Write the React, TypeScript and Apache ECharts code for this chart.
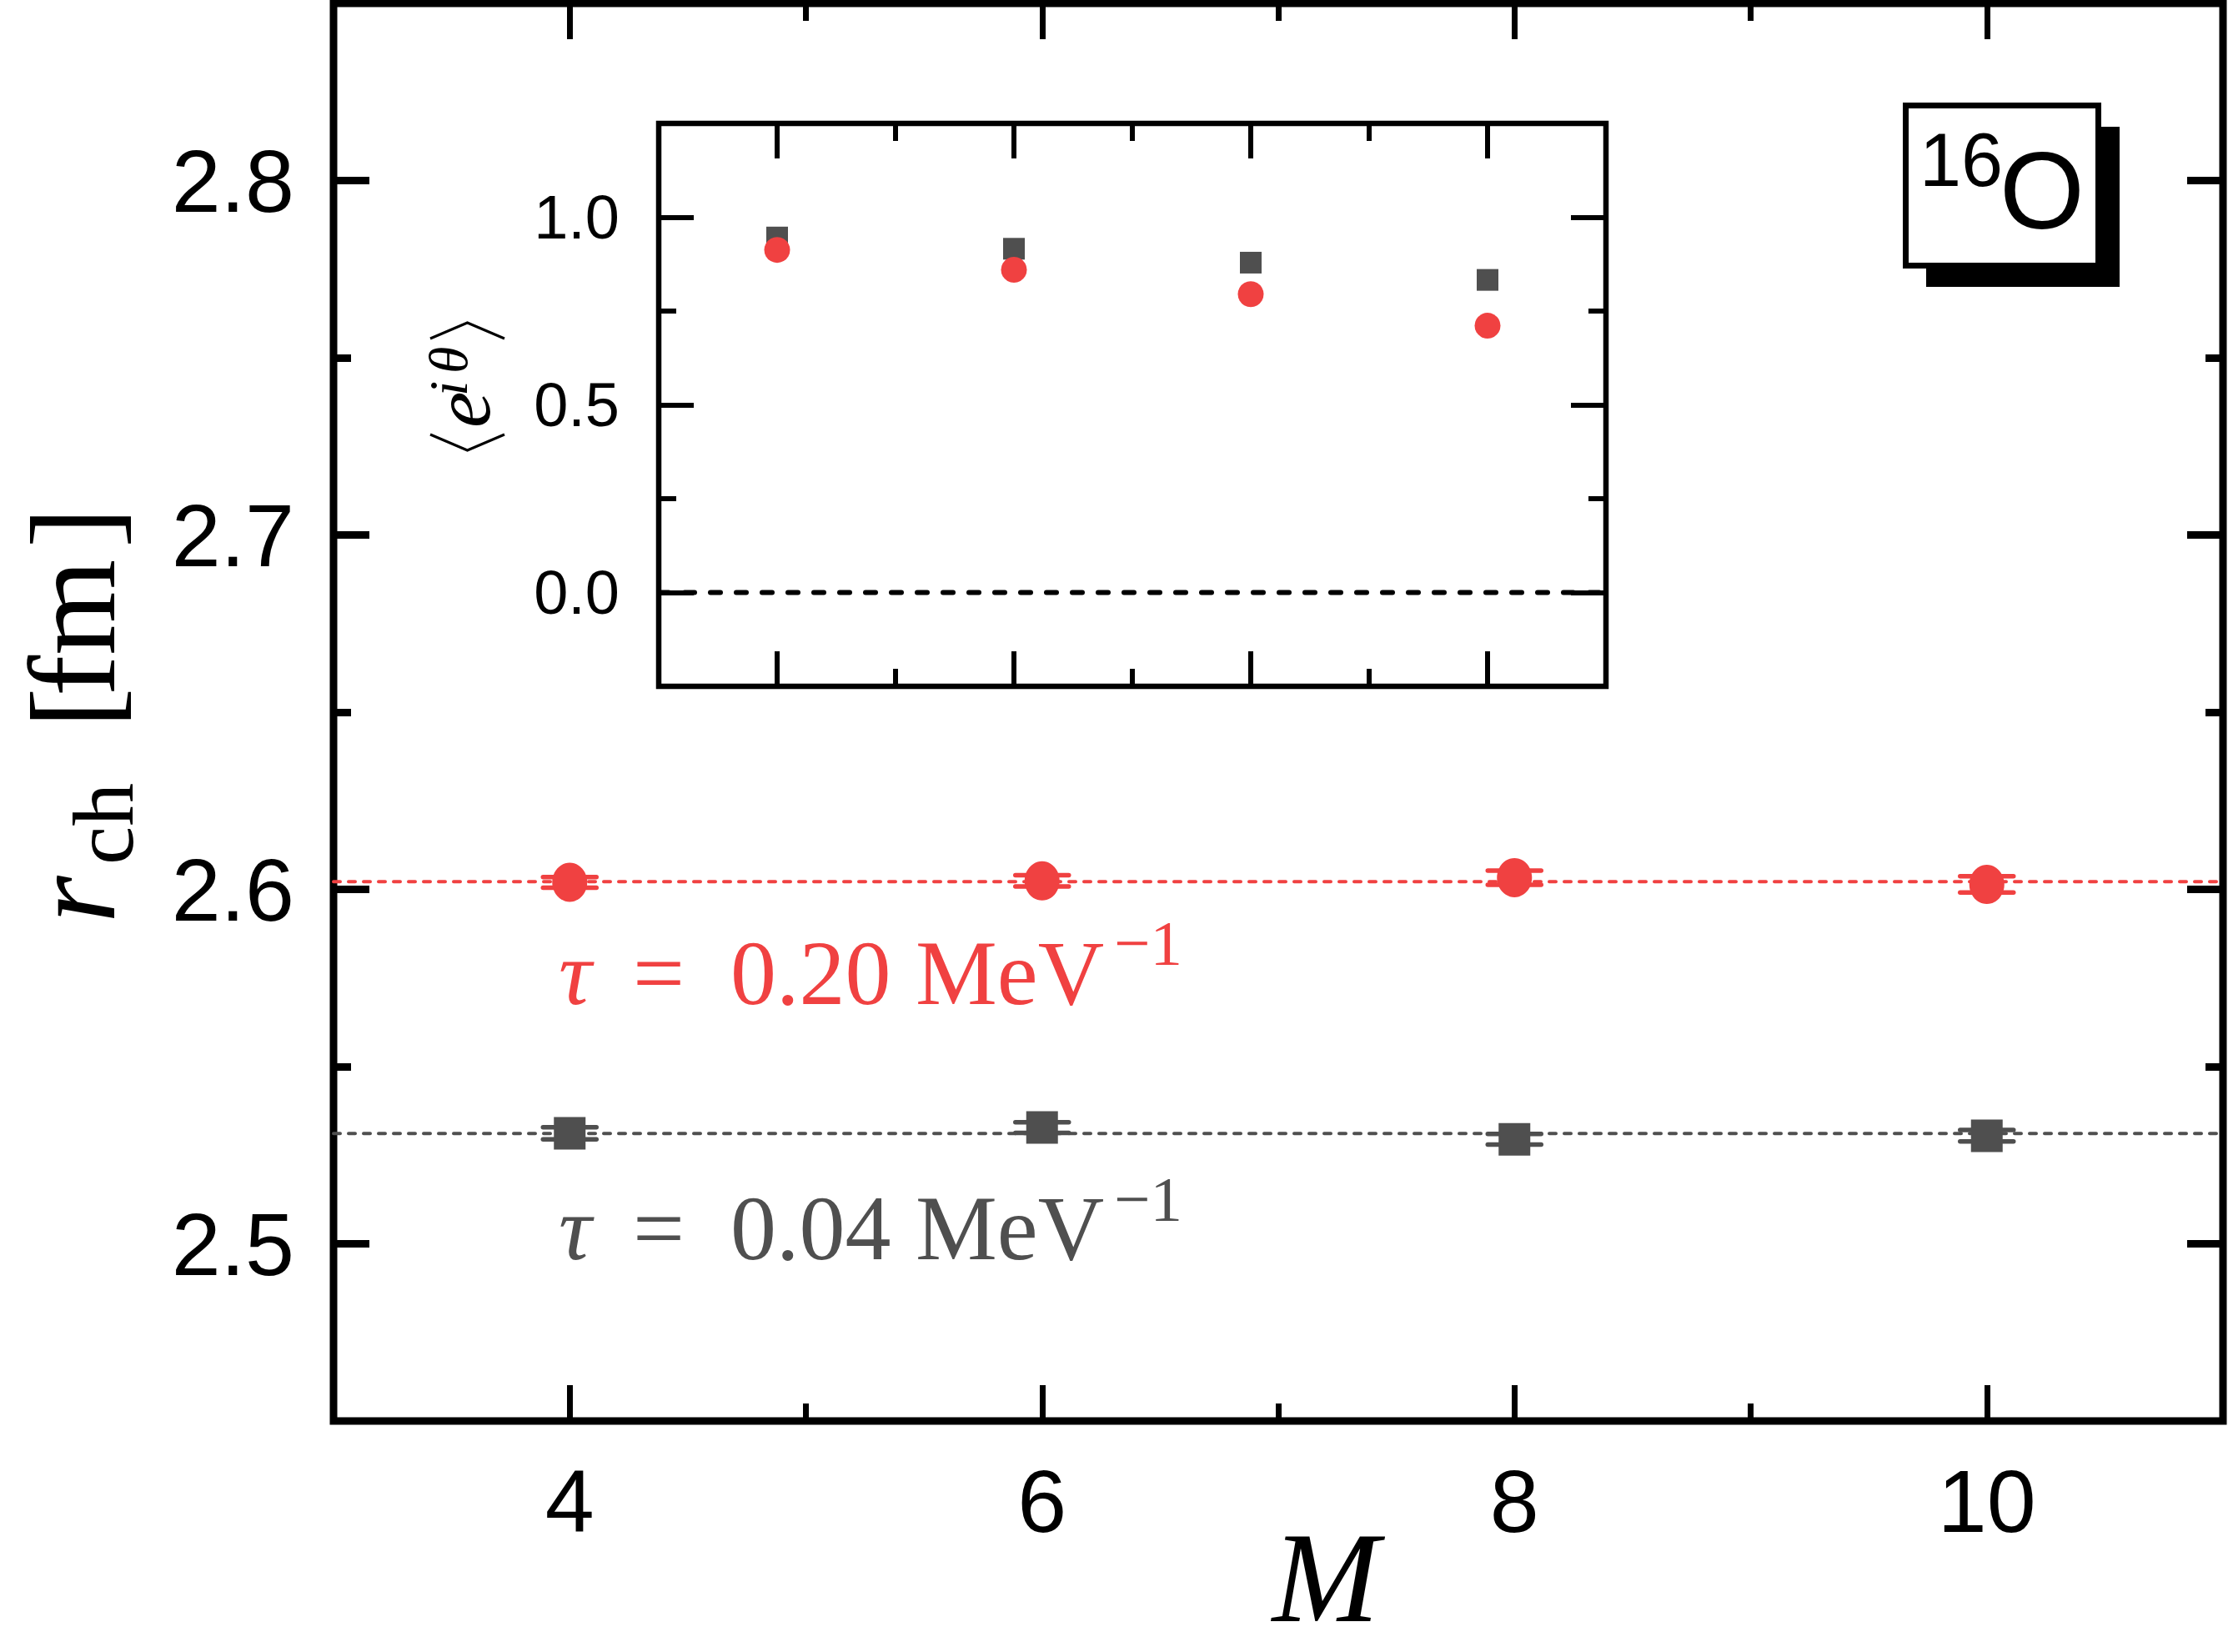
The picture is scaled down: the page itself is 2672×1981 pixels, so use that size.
import React, { useEffect, useRef } from 'react';
import * as echarts from 'echarts';

// ---------------- data ----------------
const M_VALUES = [4, 6, 8, 10];
const RCH_TAU020 = [2.602, 2.6024, 2.6033, 2.6014];
const ERR_TAU020 = [0.0015, 0.0016, 0.002, 0.0023];
const RCH_TAU004 = [2.5312, 2.5328, 2.5295, 2.5305];
const ERR_TAU004 = [0.0017, 0.0015, 0.0015, 0.0016];
const REF_TAU020 = 2.6022;
const REF_TAU004 = 2.5311;
const PHASE_TAU020 = [0.913, 0.86, 0.795, 0.711];
const PHASE_TAU004 = [0.946, 0.916, 0.879, 0.833];

const X_RANGE = [3, 11];
const Y_RANGE = [2.45, 2.85];
const INSET_Y_RANGE = [-0.25, 1.25];
const X_MAJOR = [4, 6, 8, 10];
const X_MINOR = [5, 7, 9];
const Y_MAJOR = [2.5, 2.6, 2.7, 2.8];
const Y_MINOR = [2.55, 2.65, 2.75];
const INSET_Y_MAJOR = [0, 0.5, 1.0];
const INSET_Y_MINOR = [0.25, 0.75];

const RED = '#f04141';
const GREY = '#4f4f4f';
const SANS = '"Liberation Sans", Arial, sans-serif';
const SERIF = '"Liberation Serif", "Times New Roman", serif';

// ---------------- helpers ----------------
function mkAxis(
  gridIndex: number,
  position: string,
  range: number[],
  ticks: number[],
  len: number,
  w: number,
  label?: any
) {
  return {
    type: 'value',
    gridIndex,
    position,
    min: range[0],
    max: range[1],
    axisLine: { show: false, onZero: false },
    splitLine: { show: false },
    axisPointer: { show: false },
    axisTick: {
      show: true,
      inside: true,
      length: len,
      customValues: ticks,
      lineStyle: { color: '#000', width: w },
    },
    axisLabel: label
      ? { show: true, customValues: ticks, ...label }
      : { show: false },
  };
}

function tb(
  text: string,
  x: number,
  baseline: number,
  size: number,
  opts: { italic?: boolean; fill?: string; family?: string; align?: string; z?: number } = {}
) {
  const fam = opts.family ?? SERIF;
  const central = fam === SANS ? 0.3465 : 0.3375;
  const align = opts.align ?? 'left';
  return {
    type: 'text',
    x,
    y: baseline - central * size,
    z: opts.z ?? 20,
    silent: true,
    style: {
      text,
      font: `${opts.italic ? 'italic ' : ''}${size}px ${fam}`,
      fill: opts.fill ?? '#000',
      lineHeight: Math.round(size * 0.8),
      align,
      verticalAlign: 'middle',
      textAlign: align,
      textVerticalAlign: 'middle',
    },
  };
}

function tauLabel(value: string, color: string, baseline: number, supBaseline: number) {
  return [
    tb('τ', 670, baseline, 110, { italic: true, fill: color }),
    tb('=', 759, baseline, 110, { fill: color }),
    tb(value, 876, baseline, 110, { fill: color }),
    tb('MeV', 1098, baseline, 110, { fill: color }),
    tb('−1', 1336, supBaseline, 77, { fill: color }),
  ];
}

function errSeries(values: number[], errs: number[], color: string) {
  return {
    type: 'custom',
    xAxisIndex: 0,
    yAxisIndex: 0,
    z: 3,
    silent: true,
    encode: { x: 0, y: 1 },
    data: M_VALUES.map((m, i) => [m, values[i], errs[i]]),
    renderItem: (_params: any, api: any) => {
      const x = api.value(0);
      const y = api.value(1);
      const e = api.value(2);
      const top = api.coord([x, y + e]);
      const bot = api.coord([x, y - e]);
      const hw = 32;
      const style = { stroke: color, lineWidth: 5.5, lineCap: 'round', opacity: 1 };
      return {
        type: 'group',
        children: [
          { type: 'line', shape: { x1: top[0], y1: top[1], x2: bot[0], y2: bot[1] }, style },
          { type: 'line', shape: { x1: top[0] - hw, y1: top[1], x2: top[0] + hw, y2: top[1] }, style },
          { type: 'line', shape: { x1: bot[0] - hw, y1: bot[1], x2: bot[0] + hw, y2: bot[1] }, style },
        ],
      };
    },
  };
}

function hLine(value: number, color: string, width: number, dash: number[], xIdx: number, yIdx: number) {
  return {
    type: 'line',
    xAxisIndex: xIdx,
    yAxisIndex: yIdx,
    z: 1,
    silent: true,
    symbol: 'none',
    data: [
      [X_RANGE[0], value],
      [X_RANGE[1], value],
    ],
    lineStyle: { color, width, type: dash, cap: 'round', opacity: 1 },
  };
}

function scatter(xIdx: number, yIdx: number, symbol: string, size: any, color: string, values: number[]) {
  return {
    type: 'scatter',
    xAxisIndex: xIdx,
    yAxisIndex: yIdx,
    z: 4,
    silent: true,
    symbol,
    symbolSize: size,
    itemStyle: { color, opacity: 1 },
    data: M_VALUES.map((m, i) => [m, values[i]]),
  };
}

export default function App() {
  const ref = useRef<HTMLDivElement>(null);

  useEffect(() => {
    if (!ref.current) return;
    const chart = echarts.init(ref.current, null, { renderer: 'svg' });

    const mainYLabel = {
      margin: 47,
      fontSize: 106,
      fontFamily: SANS,
      color: '#000',
      formatter: (v: number) => v.toFixed(1),
    };
    const mainXLabel = {
      margin: 43,
      fontSize: 106,
      fontFamily: SANS,
      color: '#000',
      formatter: (v: number) => String(v),
    };
    const insetYLabel = {
      margin: 47,
      fontSize: 74,
      fontFamily: SANS,
      color: '#000',
      formatter: (v: number) => v.toFixed(1),
    };

    const option: any = {
      animation: false,
      backgroundColor: '#fff',
      grid: [
        {
          left: 400,
          top: 4,
          width: 2266,
          height: 1700,
          show: true,
          borderColor: '#000',
          borderWidth: 9,
          backgroundColor: 'rgba(0,0,0,0)',
        },
        {
          left: 790,
          top: 148,
          width: 1136,
          height: 675,
          show: true,
          borderColor: '#000',
          borderWidth: 6.5,
          backgroundColor: 'rgba(0,0,0,0)',
        },
      ],
      xAxis: [
        mkAxis(0, 'bottom', X_RANGE, X_MAJOR, 43, 7, mainXLabel),
        mkAxis(0, 'bottom', X_RANGE, X_MINOR, 21, 7),
        mkAxis(0, 'top', X_RANGE, X_MAJOR, 43, 7),
        mkAxis(0, 'top', X_RANGE, X_MINOR, 21, 7),
        mkAxis(1, 'bottom', X_RANGE, X_MAJOR, 42, 6),
        mkAxis(1, 'bottom', X_RANGE, X_MINOR, 21, 6),
        mkAxis(1, 'top', X_RANGE, X_MAJOR, 42, 6),
        mkAxis(1, 'top', X_RANGE, X_MINOR, 21, 6),
      ],
      yAxis: [
        mkAxis(0, 'left', Y_RANGE, Y_MAJOR, 43, 9, mainYLabel),
        mkAxis(0, 'left', Y_RANGE, Y_MINOR, 21, 9),
        mkAxis(0, 'right', Y_RANGE, Y_MAJOR, 43, 9),
        mkAxis(0, 'right', Y_RANGE, Y_MINOR, 21, 9),
        mkAxis(1, 'left', INSET_Y_RANGE, INSET_Y_MAJOR, 42, 6, insetYLabel),
        mkAxis(1, 'left', INSET_Y_RANGE, INSET_Y_MINOR, 21, 6),
        mkAxis(1, 'right', INSET_Y_RANGE, INSET_Y_MAJOR, 42, 6),
        mkAxis(1, 'right', INSET_Y_RANGE, INSET_Y_MINOR, 21, 6),
      ],
      series: [
        hLine(REF_TAU020, RED, 4, [8, 10], 0, 0),
        hLine(REF_TAU004, GREY, 4, [8, 10], 0, 0),
        errSeries(RCH_TAU020, ERR_TAU020, RED),
        errSeries(RCH_TAU004, ERR_TAU004, GREY),
        scatter(0, 0, 'circle', [42, 47], RED, RCH_TAU020),
        scatter(0, 0, 'rect', [38, 39], GREY, RCH_TAU004),
        hLine(0, '#000', 6, [12, 19], 4, 4),
        scatter(4, 4, 'rect', 26, GREY, PHASE_TAU004),
        scatter(4, 4, 'circle', 31, RED, PHASE_TAU020),
      ],
      graphic: {
        elements: [
          // 16O box
          {
            type: 'rect',
            z: 10,
            silent: true,
            shape: { x: 2310, y: 152, width: 232, height: 192 },
            style: { fill: '#000' },
          },
          {
            type: 'rect',
            z: 11,
            silent: true,
            shape: { x: 2285.5, y: 126.5, width: 231, height: 192 },
            style: { fill: '#fff', stroke: '#000', lineWidth: 7 },
          },
          tb('16', 2302, 223, 90, { family: SANS }),
          tb('O', 2398, 274, 131, { family: SANS }),
          // tau labels
          ...tauLabel('0.20', RED, 1204, 1157),
          ...tauLabel('0.04', GREY, 1510, 1464),
          // x title
          tb('M', 1590, 1944, 154, { italic: true, align: 'center' }),
          // y title (rotated)
          {
            type: 'group',
            x: 137,
            y: 1105,
            rotation: Math.PI / 2,
            children: [
              tb('r', -2, 0, 146, { italic: true }),
              tb('ch', 68, 22, 104),
              tb('[', 232, 0, 146),
              tb('fm', 270, 0, 148),
              tb(']', 448, 0, 146),
            ],
          },
          // inset y title (rotated)
          {
            type: 'group',
            x: 587,
            y: 540,
            rotation: Math.PI / 2,
            children: [
              {
                type: 'polyline',
                silent: true,
                shape: { points: [[19, -71], [0, -26.5], [19, 18]] },
                style: { stroke: '#000', lineWidth: 3, fill: 'none' },
              },
              tb('e', 27, 0, 98, { italic: true }),
              tb('i', 65, -27, 66, { italic: true }),
              tb('θ', 92, -27, 66, { italic: true }),
              {
                type: 'polyline',
                silent: true,
                shape: { points: [[134, -71], [153, -26.5], [134, 18]] },
                style: { stroke: '#000', lineWidth: 3, fill: 'none' },
              },
            ],
          },
        ],
      },
    };

    chart.setOption(option);
    return () => {
      chart.dispose();
    };
  }, []);

  return (
    <div
      ref={ref}
      style={{ position: 'absolute', left: 0, top: 0, width: 2672, height: 1981, background: '#fff' }}
    />
  );
}
